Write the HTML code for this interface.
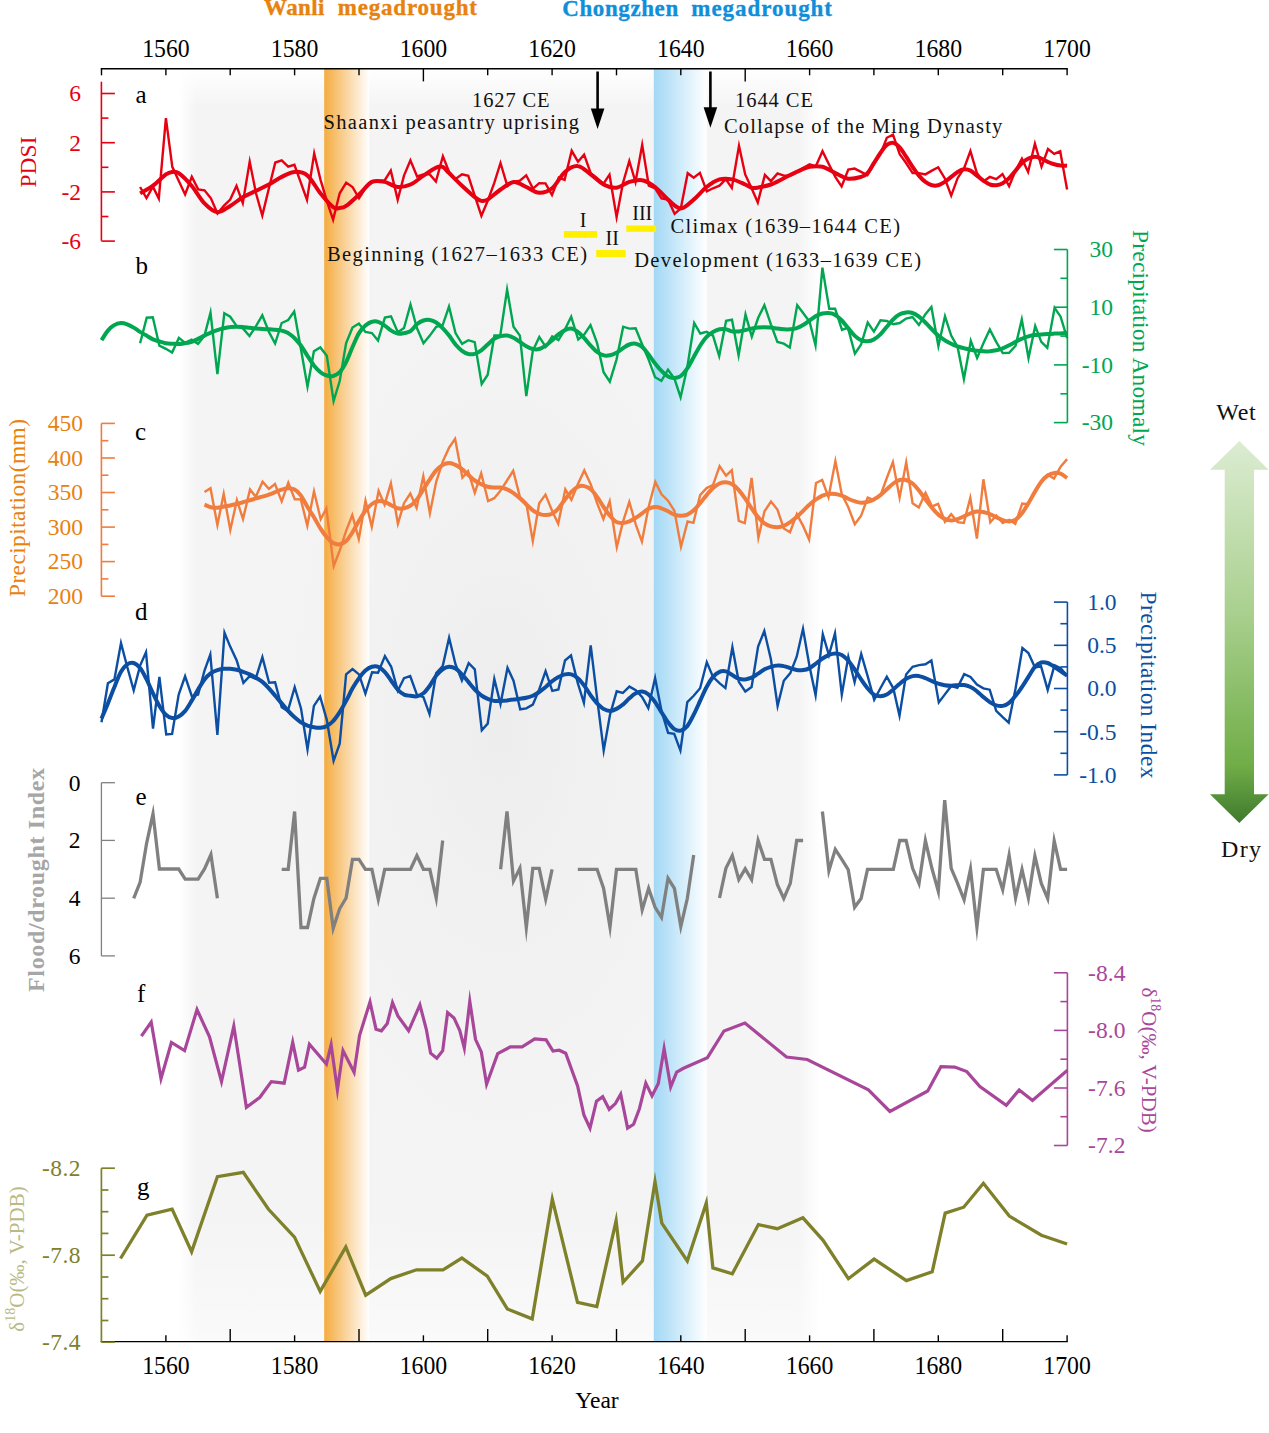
<!DOCTYPE html>
<html><head><meta charset="utf-8"><title>Megadrought</title>
<style>html,body{margin:0;padding:0;background:#fff}body{width:1269px;height:1433px;position:relative;overflow:hidden;font-family:"Liberation Serif",serif}</style></head>
<body>
<svg width="1269" height="1433" viewBox="0 0 1269 1433" style="position:absolute;left:0;top:0;font-family:'Liberation Serif',serif">
<defs>
<linearGradient id="gg" x1="0" x2="1" y1="0" y2="0"><stop offset="0" stop-color="#f4f4f4" stop-opacity="0"/><stop offset="0.027" stop-color="#f4f4f4" stop-opacity="1"/><stop offset="0.967" stop-color="#f4f4f4" stop-opacity="1"/><stop offset="1" stop-color="#f4f4f4" stop-opacity="0"/></linearGradient>
<radialGradient id="gr" cx="0.5" cy="0.5" r="0.5"><stop offset="0" stop-color="#ededed" stop-opacity="1"/><stop offset="1" stop-color="#f4f4f4" stop-opacity="0"/></radialGradient>
<linearGradient id="gv" x1="0" x2="0" y1="0" y2="1"><stop offset="0" stop-color="#fff" stop-opacity="1"/><stop offset="0.03" stop-color="#fff" stop-opacity="0"/><stop offset="0.9" stop-color="#fff" stop-opacity="0"/><stop offset="1" stop-color="#fff" stop-opacity="0.55"/></linearGradient>
<linearGradient id="go" x1="0" x2="1" y1="0" y2="0"><stop offset="0" stop-color="#f5ab40"/><stop offset="1" stop-color="#ffffff"/></linearGradient>
<linearGradient id="gb" x1="0" x2="1" y1="0" y2="0"><stop offset="0" stop-color="#a2d8f5"/><stop offset="1" stop-color="#ffffff"/></linearGradient>
<linearGradient id="ga" x1="0" x2="0" y1="0" y2="1"><stop offset="0" stop-color="#dcecd2"/><stop offset="0.45" stop-color="#a9d08e"/><stop offset="0.85" stop-color="#70ad47"/><stop offset="1" stop-color="#3f7a2e"/></linearGradient>
</defs>
<rect x="179" y="69" width="641" height="1272.5" fill="url(#gg)"/>
<rect x="200" y="150" width="600" height="1150" fill="url(#gr)"/>
<rect x="179" y="69" width="641" height="1272.5" fill="url(#gv)"/>
<rect x="324.2" y="69" width="45" height="1272.5" fill="url(#go)"/>
<rect x="653.8" y="69" width="53" height="1272.5" fill="url(#gb)"/>
<g stroke="#000" stroke-width="1.4" fill="none">
<path d="M100.7 68.8H1067.8"/>
<path d="M101.5 68.8v6.5"/>
<path d="M165.9 68.8v6.5"/>
<path d="M230.2 68.8v6.5"/>
<path d="M294.6 68.8v6.5"/>
<path d="M359 68.8v6.5"/>
<path d="M423.4 68.8v12.6"/>
<path d="M487.7 68.8v6.5"/>
<path d="M552.1 68.8v6.5"/>
<path d="M616.5 68.8v6.5"/>
<path d="M680.8 68.8v6.5"/>
<path d="M745.2 68.8v12.6"/>
<path d="M809.6 68.8v6.5"/>
<path d="M873.9 68.8v6.5"/>
<path d="M938.3 68.8v6.5"/>
<path d="M1002.7 68.8v6.5"/>
<path d="M1067.1 68.8v6.5"/>
<path d="M100.7 1341.6H1067.8"/>
<path d="M165.9 1341.6v-6.3"/>
<path d="M230.2 1341.6v-12.6"/>
<path d="M294.6 1341.6v-6.3"/>
<path d="M359 1341.6v-12.6"/>
<path d="M423.4 1341.6v-6.3"/>
<path d="M487.7 1341.6v-12.6"/>
<path d="M552.1 1341.6v-6.3"/>
<path d="M616.5 1341.6v-12.6"/>
<path d="M680.8 1341.6v-6.3"/>
<path d="M745.2 1341.6v-12.6"/>
<path d="M809.6 1341.6v-6.3"/>
<path d="M873.9 1341.6v-12.6"/>
<path d="M938.3 1341.6v-6.3"/>
<path d="M1002.7 1341.6v-12.6"/>
<path d="M1067.1 1341.6v-6.3"/>
</g>
<g font-size="24.5" text-anchor="middle" fill="#000">
<text x="165.9" y="56.7" textLength="47.5" lengthAdjust="spacingAndGlyphs">1560</text>
<text x="165.9" y="1374.2" textLength="47.5" lengthAdjust="spacingAndGlyphs">1560</text>
<text x="294.6" y="56.7" textLength="47.5" lengthAdjust="spacingAndGlyphs">1580</text>
<text x="294.6" y="1374.2" textLength="47.5" lengthAdjust="spacingAndGlyphs">1580</text>
<text x="423.4" y="56.7" textLength="47.5" lengthAdjust="spacingAndGlyphs">1600</text>
<text x="423.4" y="1374.2" textLength="47.5" lengthAdjust="spacingAndGlyphs">1600</text>
<text x="552.1" y="56.7" textLength="47.5" lengthAdjust="spacingAndGlyphs">1620</text>
<text x="552.1" y="1374.2" textLength="47.5" lengthAdjust="spacingAndGlyphs">1620</text>
<text x="680.8" y="56.7" textLength="47.5" lengthAdjust="spacingAndGlyphs">1640</text>
<text x="680.8" y="1374.2" textLength="47.5" lengthAdjust="spacingAndGlyphs">1640</text>
<text x="809.6" y="56.7" textLength="47.5" lengthAdjust="spacingAndGlyphs">1660</text>
<text x="809.6" y="1374.2" textLength="47.5" lengthAdjust="spacingAndGlyphs">1660</text>
<text x="938.3" y="56.7" textLength="47.5" lengthAdjust="spacingAndGlyphs">1680</text>
<text x="938.3" y="1374.2" textLength="47.5" lengthAdjust="spacingAndGlyphs">1680</text>
<text x="1067.1" y="56.7" textLength="47.5" lengthAdjust="spacingAndGlyphs">1700</text>
<text x="1067.1" y="1374.2" textLength="47.5" lengthAdjust="spacingAndGlyphs">1700</text>
</g>
<text x="597" y="1408.2" font-size="23.5" text-anchor="middle">Year</text>
<g stroke="#e60012" stroke-width="1.6" fill="none"><path d="M101.4 81.7V240.8"/><path d="M101.4 93.5h13.5"/><path d="M101.4 142.7h13.5"/><path d="M101.4 191.9h13.5"/><path d="M101.4 241.1h13.5"/><path d="M101.4 118.1h7"/><path d="M101.4 167.3h7"/><path d="M101.4 216.5h7"/></g>
<g font-size="23.5" fill="#e60012" text-anchor="end">
<text x="81" y="101.3">6</text>
<text x="81" y="150.5">2</text>
<text x="81" y="199.7">-2</text>
<text x="81" y="248.9">-6</text>
</g>
<text transform="translate(36,162) rotate(-90)" font-size="23.5" fill="#e60012" text-anchor="middle">PDSI</text>
<g stroke="#00a650" stroke-width="1.6" fill="none"><path d="M1067.4 249.5V422.6"/><path d="M1067.4 249.5h-13.5"/><path d="M1067.4 307.2h-13.5"/><path d="M1067.4 364.9h-13.5"/><path d="M1067.4 422.6h-13.5"/><path d="M1067.4 278.3h-7"/><path d="M1067.4 336.1h-7"/><path d="M1067.4 393.8h-7"/></g>
<g font-size="23.5" fill="#00a650" text-anchor="end">
<text x="1113" y="257.3">30</text>
<text x="1113" y="315">10</text>
<text x="1113" y="372.7">-10</text>
<text x="1113" y="430.4">-30</text>
</g>
<text transform="translate(1133,338) rotate(90)" font-size="23.5" fill="#00a650" text-anchor="middle" textLength="216">Precipitation Anomaly</text>
<g stroke="#f07c3e" stroke-width="1.6" fill="none"><path d="M101.4 423.4V596.2"/><path d="M101.4 596.2h13.5"/><path d="M101.4 561.6h13.5"/><path d="M101.4 527.1h13.5"/><path d="M101.4 492.5h13.5"/><path d="M101.4 458h13.5"/><path d="M101.4 423.4h13.5"/><path d="M101.4 578.9h7"/><path d="M101.4 544.4h7"/><path d="M101.4 509.8h7"/><path d="M101.4 475.2h7"/><path d="M101.4 440.7h7"/></g>
<g font-size="23.5" fill="#e8820e" text-anchor="end">
<text x="83" y="604">200</text>
<text x="83" y="569.4">250</text>
<text x="83" y="534.9">300</text>
<text x="83" y="500.3">350</text>
<text x="83" y="465.8">400</text>
<text x="83" y="431.2">450</text>
</g>
<text transform="translate(25,508) rotate(-90)" font-size="23.5" fill="#e8820e" text-anchor="middle" textLength="178">Precipitation(mm)</text>
<g stroke="#0b4ea2" stroke-width="1.6" fill="none"><path d="M1067.4 602.1V774.9"/><path d="M1067.4 602.1h-13.5"/><path d="M1067.4 645.3h-13.5"/><path d="M1067.4 688.5h-13.5"/><path d="M1067.4 731.7h-13.5"/><path d="M1067.4 774.9h-13.5"/><path d="M1067.4 623.7h-7"/><path d="M1067.4 666.9h-7"/><path d="M1067.4 710.1h-7"/><path d="M1067.4 753.3h-7"/></g>
<g font-size="23.5" fill="#0b4ea2" text-anchor="end">
<text x="1116.5" y="609.9">1.0</text>
<text x="1116.5" y="653.1">0.5</text>
<text x="1116.5" y="696.3">0.0</text>
<text x="1116.5" y="739.5">-0.5</text>
<text x="1116.5" y="782.6">-1.0</text>
</g>
<text transform="translate(1140.5,685) rotate(90)" font-size="23.5" fill="#0b4ea2" text-anchor="middle" textLength="187">Precipitation Index</text>
<g stroke="#808080" stroke-width="1.3" fill="none"><path d="M101.4 782.7V955.9"/><path d="M101.4 782.7h13.5"/><path d="M101.4 840.4h13.5"/><path d="M101.4 898.2h13.5"/><path d="M101.4 955.9h13.5"/></g>
<g font-size="23.5" fill="#000" text-anchor="end">
<text x="80.5" y="790.5">0</text>
<text x="80.5" y="848.2">2</text>
<text x="80.5" y="906">4</text>
<text x="80.5" y="963.7">6</text>
</g>
<text transform="translate(43.5,880) rotate(-90)" font-size="24" font-weight="bold" fill="#a6a6a6" text-anchor="middle" textLength="224">Flood/drought Index</text>
<g stroke="#a8479a" stroke-width="1.6" fill="none"><path d="M1067.4 972.8V1145.5"/><path d="M1067.4 972.8h-13.5"/><path d="M1067.4 1030.4h-13.5"/><path d="M1067.4 1088h-13.5"/><path d="M1067.4 1145.5h-13.5"/><path d="M1067.4 1001.6h-7"/><path d="M1067.4 1059.2h-7"/><path d="M1067.4 1116.7h-7"/></g>
<g font-size="23.5" fill="#a8479a" text-anchor="end">
<text x="1125.5" y="980.6" textLength="37.5">-8.4</text>
<text x="1125.5" y="1038.2" textLength="37.5">-8.0</text>
<text x="1125.5" y="1095.8" textLength="37.5">-7.6</text>
<text x="1125.5" y="1153.3" textLength="37.5">-7.2</text>
</g>
<text transform="translate(1142,1060) rotate(90)" font-size="21" fill="#a8479a" text-anchor="middle">δ<tspan font-size="14" dy="-9">18</tspan><tspan dy="9">O(‰, V-PDB)</tspan></text>
<g stroke="#7e802a" stroke-width="1.7" fill="none"><path d="M101.4 1168.2V1342.2"/><path d="M101.4 1168.2h13.5"/><path d="M101.4 1255.2h13.5"/><path d="M101.4 1342.2h13.5"/><path d="M101.4 1190h7"/><path d="M101.4 1211.7h7"/><path d="M101.4 1233.4h7"/><path d="M101.4 1277h7"/><path d="M101.4 1298.7h7"/><path d="M101.4 1320.5h7"/></g>
<g font-size="23.5" fill="#7e802a" text-anchor="end">
<text x="80.5" y="1176" textLength="38.4">-8.2</text>
<text x="80.5" y="1263" textLength="38.4">-7.8</text>
<text x="80.5" y="1350" textLength="38.4">-7.4</text>
</g>
<text transform="translate(24,1259) rotate(-90)" font-size="21" fill="#b9ba85" text-anchor="middle">δ<tspan font-size="14" dy="-9">18</tspan><tspan dy="9">O(‰, V-PDB)</tspan></text>
<polyline points="140.1,187 146.5,198 152.9,186.6 158.8,198.6 165.9,118.2 172.3,166.8 178.7,180.7 185.1,194.5 191.8,176.8 198.2,189.4 204.5,190.3 210.9,198.3 217.5,213.4 223.8,205.9 230.2,199.6 236.5,185.9 242.8,203.1 249.7,161.6 256,193.3 262.3,215.5 268.9,188.3 275.3,162.5 281.7,160.3 288.2,166.6 294.4,164.8 301,183.2 307,199.9 314.2,153.4 320.4,179.4 326.8,200.9 333.1,219.8 339.7,193.3 346.2,182.6 352.5,187 359,198.3 365.4,188.3 371.9,181.9 378.3,180.7 384.6,180.5 390.8,170.6 397.7,199.7 404,175.6 410.4,160.4 417.1,176.4 423.4,174.4 429.8,174.4 435.9,181.5 442.9,156.3 449.1,171.9 455.6,179 462,174.4 468.3,175.8 474.8,195.8 481.4,215.8 487.7,200.9 494.2,183.2 500.5,163 507.4,186 513.5,181.9 519.9,180.7 526.2,175.3 533,188.6 539.2,183.2 545.5,183.4 552,195 558.8,177.6 564.6,179.9 571.7,150.8 578,161.7 584.1,154.6 590.7,173.1 597.1,178.2 603.5,183.7 609.5,174.7 616.6,217.2 622.9,183.2 629.3,161 635.5,182 642.2,144.8 648.8,185.6 655.1,188.3 661.5,198.3 668,199.6 674.6,213.8 680.8,208.4 687.7,173.2 693.7,177.7 699.9,172.9 706.8,191.4 713,188.3 719.5,185.7 725.8,179.1 731.8,187.9 739,145.8 745.2,174.4 751.6,188.3 757.8,202.6 764.9,174.9 770.9,181.1 777.5,173.4 783.8,175.6 790.3,175.6 796.7,171.9 803.1,168.1 809.6,164.3 815.8,166.3 822.5,151.2 828.9,164.3 835.3,176.9 841.6,186.5 848.3,169.5 854.6,168.6 861.1,171.9 867.4,175.2 873.9,164.3 880.4,154.2 886.8,137.8 893,134.7 899.7,154.2 906.1,163 912.6,173.1 919,173.1 925.4,174.4 931.9,170.6 938.2,167.3 944.7,178.2 951.2,195.6 957.6,178.2 964.1,168.1 970.4,151.1 976.9,173.1 983.4,181.4 989.8,176.9 996.2,179.2 1002.5,174 1009.1,186.2 1015.6,170.6 1021.9,158.8 1028.1,172 1034.9,143.7 1041.5,166.7 1048,149 1054.2,153.9 1060.2,151.3 1067.1,189.5" fill="none" stroke="#e60012" stroke-width="2.4" stroke-linejoin="miter" stroke-miterlimit="7.4"/>
<path d="M140.1 193.3C142.3 192 148.7 188.9 153 185.7C157.3 182.6 162.7 176.7 165.9 174.4C169.1 172.1 170.2 172.1 172.3 171.9C174.5 171.7 175.5 170.8 178.7 173.1C182 175.4 187.3 180.7 191.6 185.7C195.9 190.8 200.2 199 204.5 203.4C208.8 207.8 213.1 211.8 217.4 212.2C221.7 212.6 225.9 208.4 230.2 205.9C234.5 203.4 238.8 199.6 243.1 197.1C247.4 194.6 251.7 192.9 256 190.8C260.3 188.7 264.6 186.8 268.9 184.5C273.2 182.2 277.4 179 281.7 176.9C286 174.8 290.3 172.1 294.6 171.9C298.9 171.7 303.2 172.1 307.5 175.6C311.8 179.2 316.1 188 320.4 193.3C324.6 198.5 330 204.7 333.2 207.2C336.5 209.6 337.5 208.1 339.7 207.9C341.8 207.7 342.9 208.1 346.1 205.9C349.3 203.7 354.7 198.5 359 194.6C363.3 190.6 367.6 184 371.9 181.9C376.1 179.8 380.4 181.1 384.7 181.9C389 182.8 393.3 186.6 397.6 187C401.9 187.4 406.2 186.4 410.5 184.5C414.8 182.6 419.1 178.5 423.4 175.6C427.6 172.8 433 169 436.2 167.6C439.4 166.1 440.5 165.9 442.7 166.8C444.8 167.7 445.9 170 449.1 173.1C452.3 176.3 457.7 181.7 462 185.7C466.3 189.7 471.6 194.6 474.8 197.1C478.1 199.6 479.1 200.4 481.3 200.9C483.4 201.3 484.5 201.5 487.7 199.6C490.9 197.7 496.3 192.5 500.6 189.5C504.9 186.6 509.2 182.4 513.5 181.9C517.8 181.5 522.1 185.2 526.3 187C530.6 188.8 534.9 192.6 539.2 192.8C543.5 193 547.8 191.7 552.1 188.3C556.4 184.8 560.7 175.6 565 171.9C569.3 168.2 573.5 165.6 577.8 166.1C582.1 166.5 586.4 171.3 590.7 174.4C595 177.4 599.3 182.2 603.6 184.5C607.9 186.7 612.2 188.2 616.5 187.7C620.8 187.3 625 183.2 629.3 181.9C633.6 180.7 637.9 179.3 642.2 180.2C646.5 181 650.8 183.8 655.1 187C659.4 190.2 663.7 196 668 199.6C672.2 203.2 676.5 208.4 680.8 208.4C685.1 208.4 689.4 203.2 693.7 199.6C698 196 702.3 190.4 706.6 187C710.9 183.6 715.2 180.7 719.5 179.4C723.7 178.2 728 178.6 732.3 179.4C736.6 180.3 742 183.1 745.2 184.5C748.4 185.9 749.5 187.2 751.6 187.7C753.8 188.3 754.9 188 758.1 187.5C761.3 186.9 766.7 186 770.9 184.5C775.2 182.9 779.5 180.3 783.8 178.2C788.1 176.1 792.4 173.8 796.7 171.9C801 170 805.3 167.7 809.6 166.8C813.9 166 818.2 165.8 822.4 166.8C826.7 167.9 831 171.1 835.3 173.1C839.6 175.1 843.9 178 848.2 178.7C852.5 179.3 857.8 177.8 861.1 176.9C864.3 176 865.4 175.4 867.5 173.1C869.6 170.8 871.8 166.4 873.9 163C876.1 159.7 878.2 156 880.4 153C882.5 149.9 884.7 146.6 886.8 144.9C889 143.2 891.1 142.4 893.3 142.9C895.4 143.3 897.5 145.1 899.7 147.4C901.8 149.7 904 153.5 906.1 156.7C908.3 160 910.4 163.7 912.6 166.8C914.7 170 916.9 173.1 919 175.6C921.1 178.2 923.3 180.3 925.4 181.9C927.6 183.5 929.7 184.7 931.9 185.2C934 185.8 936.2 185.8 938.3 185.2C940.5 184.7 942.6 183.3 944.7 181.9C946.9 180.6 949 178.6 951.2 176.9C953.3 175.2 955.5 173.1 957.6 171.9C959.8 170.6 961.9 169.5 964.1 169.3C966.2 169.1 968.3 169.5 970.5 170.6C972.6 171.7 974.8 174 976.9 175.6C979.1 177.3 981.2 179.2 983.4 180.7C985.5 182.2 987.7 183.7 989.8 184.5C992 185.2 994.1 185.4 996.2 185.2C998.4 185 1000.5 184.4 1002.7 183.2C1004.8 182 1007 180.3 1009.1 178.2C1011.3 176.1 1013.4 173.1 1015.6 170.6C1017.7 168.1 1019.8 165.1 1022 163C1024.1 161 1026.3 159.5 1028.4 158.5C1030.6 157.4 1032.7 156.7 1034.9 156.7C1037 156.7 1039.2 157.7 1041.3 158.5C1043.4 159.3 1045.6 160.8 1047.7 161.8C1049.9 162.7 1052 163.7 1054.2 164.3C1056.3 164.9 1058.5 165.3 1060.6 165.6C1062.8 165.8 1066 165.6 1067.1 165.6" fill="none" stroke="#e60012" stroke-width="4.0" stroke-linejoin="round" stroke-linecap="butt"/>
<polyline points="140.1,343.2 146.7,317.7 152.8,317.3 159.4,345.7 165.9,348.8 172.1,352.6 178.9,337.9 185.2,342.9 191.6,339.7 198,343.9 204.5,335.6 210.5,312.5 217.4,374 224.3,313.3 230.2,316.7 236.7,326.1 243.1,328.6 249.5,336 256,326.1 262.3,315.3 268.9,331.9 275.1,343.5 281.7,323 288.2,320 294.2,311.5 301,349.5 307.5,386.7 313.9,351.3 320.3,347.4 326.8,355.8 333.6,401 339.7,381 346.1,343.2 352.5,327.6 358.9,323.5 365.4,331.9 371.9,333.1 378,340.4 384.9,317.6 391,316.3 397.8,332.3 404,328.1 410.5,304.5 416.9,328.1 423.5,343.2 429.8,335.6 436.2,326.8 442.7,325.1 449,306.6 455.5,333.1 462.1,343.9 468.4,340.2 474.7,342.1 481.7,384 487.7,374.7 494.4,335.5 500.3,335.3 507.1,289.5 513.5,326.8 519.9,335.6 526.3,396.2 532.8,350.8 539.3,336.9 545.7,346.8 552.2,336.3 558.4,340.1 565,329.3 571.2,316.8 578.2,339.5 584.3,334.4 590.5,325.2 597.1,343.2 603.6,372.2 609.8,381.6 616.5,359.6 623.2,326.7 629.3,328.6 635.6,328.3 642.2,344.5 648.6,359.6 655.1,377.2 661.4,380.9 668,369.7 674.4,378.5 680.6,397.2 687.3,367.2 694.2,323 700.3,333.5 706.6,331.9 713,335.6 719.2,356.1 726.1,320.7 732,319.7 738.6,355.3 745.5,314.5 751.8,336.7 758.1,318 764.4,305.2 770.9,324.3 777.4,341.9 783.8,343.7 789.8,347.6 797.2,305.1 803.1,313 809.6,321.8 815.5,345.4 822.4,267.6 829.2,308.8 835.1,308.7 842,329.9 847.9,327.6 854.9,353.7 861.1,344.5 867.7,322.6 873.9,331.6 880.5,320.3 886.8,321 893.3,324.3 899.7,323 906.1,318.5 912.5,317 918.9,325 925.4,314.2 931.4,307 938.4,346.1 945,316.3 951.2,335.6 957.6,347 963.9,379 970.8,340.8 977.1,358 983.4,343.2 989.8,329.4 996.2,341.9 1002.8,353.1 1009.1,352.8 1015.6,345.7 1021.8,319.4 1028.5,358 1035.2,325.9 1041.3,341.9 1047.3,347.9 1054.6,307.8 1060.6,316.7 1067.1,338.2" fill="none" stroke="#00a650" stroke-width="2.4" stroke-linejoin="miter" stroke-miterlimit="7.4"/>
<path d="M101.5 340.2C102.6 338.6 105.8 333.1 107.9 330.6C110.1 328.1 112.2 326.3 114.4 325.1C116.5 323.8 118.7 323.2 120.8 323C123 322.9 125.1 323.5 127.2 324.3C129.4 325.1 131.5 326.3 133.7 327.6C135.8 328.8 138 330.5 140.1 331.9C142.3 333.2 144.4 334.4 146.6 335.6C148.7 336.9 150.9 338.5 153 339.4C155.1 340.4 157.3 340.8 159.4 341.4C161.6 342.1 163.7 342.8 165.9 343.2C168 343.6 170.2 343.6 172.3 343.7C174.5 343.8 176.6 344 178.7 344C180.9 343.9 183 343.5 185.2 343.2C187.3 342.9 189.5 342.7 191.6 341.9C193.8 341.2 195.9 340 198.1 338.9C200.2 337.9 202.3 336.7 204.5 335.6C206.6 334.6 208.8 333.5 210.9 332.6C213.1 331.7 215.2 330.8 217.4 330.1C219.5 329.4 221.7 328.8 223.8 328.3C225.9 327.8 228.1 327.3 230.2 327.1C232.4 326.8 234.5 326.8 236.7 326.8C238.8 326.8 241 326.9 243.1 327.1C245.3 327.2 247.4 327.6 249.6 327.8C251.7 328.1 253.8 328.4 256 328.6C258.1 328.8 260.3 329 262.4 329.1C264.6 329.2 266.7 329.2 268.9 329.3C271 329.5 273.2 329.6 275.3 329.8C277.4 330.1 279.6 330.1 281.7 330.6C283.9 331.1 286 331.9 288.2 333.1C290.3 334.4 292.5 336.1 294.6 338.2C296.8 340.3 298.9 342.8 301 345.7C303.2 348.7 305.3 352.5 307.5 355.8C309.6 359.1 311.8 362.7 313.9 365.4C316.1 368.1 318.2 370.5 320.4 372.2C322.5 373.9 324.6 374.9 326.8 375.5C328.9 376.1 331.1 376.5 333.2 376C335.4 375.4 337.5 374.5 339.7 372.2C341.8 369.9 344 366.3 346.1 362.1C348.3 357.9 350.4 351.8 352.5 347C354.7 342.2 356.8 336.7 359 333.1C361.1 329.5 363.3 327.4 365.4 325.6C367.6 323.7 369.7 322.4 371.9 321.8C374 321.1 376.1 321.1 378.3 321.8C380.4 322.4 382.6 324.1 384.7 325.6C386.9 327 389 329.3 391.2 330.6C393.3 331.9 395.5 333.2 397.6 333.6C399.7 334 401.9 333.5 404 333.1C406.2 332.7 408.3 332.6 410.5 331.1C412.6 329.6 414.8 326.1 416.9 324.3C419.1 322.5 421.2 321.2 423.4 320.5C425.5 319.8 427.6 319.7 429.8 320C431.9 320.3 434.1 321.2 436.2 322.5C438.4 323.9 440.5 325.9 442.7 328.1C444.8 330.3 447 332.9 449.1 335.6C451.2 338.4 453.4 341.9 455.5 344.5C457.7 347 459.8 349.2 462 350.8C464.1 352.4 466.3 353.5 468.4 354C470.6 354.6 472.7 354.4 474.8 353.8C477 353.2 479.1 351.8 481.3 350.3C483.4 348.7 485.6 346.4 487.7 344.5C489.9 342.5 492 340.1 494.2 338.7C496.3 337.3 498.4 336.7 500.6 336.1C502.7 335.6 504.9 335.4 507 335.6C509.2 335.9 511.3 336.6 513.5 337.7C515.6 338.7 517.8 340.5 519.9 341.9C522.1 343.4 524.2 345.1 526.3 346.2C528.5 347.4 530.6 348.5 532.8 349C534.9 349.5 537.1 349.6 539.2 349C541.4 348.5 543.5 347.2 545.7 345.7C547.8 344.3 549.9 342.1 552.1 340.2C554.2 338.3 556.4 336.1 558.5 334.4C560.7 332.7 562.8 331.1 565 330.1C567.1 329.1 569.3 328.3 571.4 328.6C573.5 328.9 575.7 330.3 577.8 331.9C580 333.5 582.1 335.9 584.3 338.2C586.4 340.5 588.6 343.4 590.7 345.7C592.9 348 595 350.4 597.1 352C599.3 353.6 601.4 354.8 603.6 355.3C605.7 355.9 607.9 355.7 610 355.3C612.2 354.9 614.3 354 616.5 352.8C618.6 351.6 620.8 349.6 622.9 348.3C625 346.9 627.2 345.2 629.3 344.5C631.5 343.7 633.6 343.3 635.8 343.7C637.9 344.1 640.1 345.2 642.2 347C644.4 348.8 646.5 351.8 648.6 354.6C650.8 357.3 652.9 360.6 655.1 363.4C657.2 366.1 659.4 368.8 661.5 370.9C663.7 373.1 665.8 375.3 668 376.5C670.1 377.7 672.2 378.1 674.4 378C676.5 377.9 678.7 377.6 680.8 376C683 374.4 685.1 371.6 687.3 368.4C689.4 365.3 691.6 360.9 693.7 357.1C695.8 353.3 698 349.1 700.1 345.7C702.3 342.4 704.4 339.2 706.6 336.9C708.7 334.6 710.9 333.1 713 331.9C715.2 330.6 717.3 329.8 719.5 329.3C721.6 328.9 723.7 329 725.9 329.3C728 329.7 730.2 331 732.3 331.4C734.5 331.7 736.6 331.6 738.8 331.4C740.9 331.1 743.1 330.6 745.2 330.1C747.3 329.6 749.5 329 751.6 328.6C753.8 328.2 755.9 327.8 758.1 327.6C760.2 327.4 762.4 327.3 764.5 327.3C766.7 327.3 768.8 327.4 770.9 327.6C773.1 327.8 775.2 328.3 777.4 328.6C779.5 328.9 781.7 329.2 783.8 329.3C786 329.5 788.1 329.5 790.3 329.3C792.4 329.1 794.6 328.8 796.7 328.1C798.8 327.4 801 326.3 803.1 325.1C805.3 323.8 807.4 322 809.6 320.5C811.7 319 813.9 317.2 816 316C818.2 314.8 820.3 314 822.4 313.5C824.6 313 826.7 312.7 828.9 313C831 313.2 833.2 313.7 835.3 315C837.5 316.2 839.6 318.3 841.8 320.5C843.9 322.7 846 325.6 848.2 328.1C850.3 330.6 852.5 333.6 854.6 335.6C856.8 337.7 858.9 339.3 861.1 340.2C863.2 341.1 865.4 341.3 867.5 341.2C869.6 341.1 871.8 340.6 873.9 339.4C876.1 338.3 878.2 336.5 880.4 334.4C882.5 332.3 884.7 329.3 886.8 326.8C889 324.3 891.1 321.4 893.3 319.3C895.4 317.2 897.5 315.3 899.7 314.2C901.8 313.1 904 312.7 906.1 312.4C908.3 312.2 910.4 312.2 912.6 313C914.7 313.7 916.9 315.1 919 316.7C921.1 318.3 923.3 320.4 925.4 322.5C927.6 324.6 929.7 327.2 931.9 329.3C934 331.5 936.2 333.8 938.3 335.6C940.5 337.4 942.6 338.8 944.7 340.2C946.9 341.5 949 342.7 951.2 343.7C953.3 344.8 955.5 345.7 957.6 346.5C959.8 347.2 961.9 347.7 964.1 348.3C966.2 348.8 968.3 349.3 970.5 349.8C972.6 350.2 974.8 350.5 976.9 350.8C979.1 351 981.2 351.2 983.4 351.3C985.5 351.4 987.7 351.4 989.8 351.3C992 351.1 994.1 350.8 996.2 350.3C998.4 349.8 1000.5 349.1 1002.7 348.3C1004.8 347.4 1007 346.3 1009.1 345.2C1011.3 344.2 1013.4 343 1015.6 341.9C1017.7 340.9 1019.8 339.6 1022 338.7C1024.1 337.7 1026.3 337 1028.4 336.4C1030.6 335.8 1032.7 335.4 1034.9 335.1C1037 334.8 1039.2 334.8 1041.3 334.6C1043.4 334.5 1045.6 334.3 1047.7 334.1C1049.9 334 1052 333.8 1054.2 333.6C1056.3 333.5 1058.5 333.5 1060.6 333.4C1062.8 333.3 1066 333.2 1067.1 333.1" fill="none" stroke="#00a650" stroke-width="4.0" stroke-linejoin="round" stroke-linecap="butt"/>
<polyline points="204.5,492.1 210.5,488.2 217.4,525 223.7,493.8 230.3,529.9 236.9,500.1 243,519.1 250,489.4 255.8,496.7 262.6,481.7 268.9,488.9 275,484 281.7,501.4 288.3,482.7 294.8,499.4 300.8,499.3 307.3,525.6 314,491.3 320.7,519.2 326.3,508.4 333.7,566 339.7,550.6 346.1,530.9 352.3,515.1 358.8,539 365.5,500.7 371.8,526.7 378.6,490.9 384.6,504.7 390.9,483.2 397.9,523.8 404,503.2 410.3,493.6 416.6,507.9 423.3,476.3 429.9,513.2 436.2,481.8 442.7,461.6 449.1,447.7 455.1,438.8 462.4,477.7 468.1,471.2 474.8,492.8 481.2,473.3 488.1,501.1 494.2,498.2 500.6,490.6 507,480.5 513.2,470.8 519.9,496.9 526.3,503.2 532.8,541.2 539.2,503.2 545.5,494.6 552.1,510.8 558.2,523.8 565.3,489.3 571.4,499.8 577.8,484.3 584.3,470.4 590.7,484.3 597.1,503.2 603.4,519 609.7,501.3 616.8,547.1 622.9,522.1 629.3,501.8 635.8,524.6 641.9,541.6 648.6,507 655.3,481.9 661.5,494.4 668,500.7 674.4,510.8 681,546.8 687.6,521.4 693.4,522.8 700.1,495.1 706.6,488.1 713,485.1 719.6,466.1 726,475.7 731.8,470.3 738.8,520.9 744.8,523.2 751.6,478 758.4,537.6 764.5,511.3 771,501.6 777.4,509.5 783.8,528.4 790,532.2 796.8,514.2 803.1,525.9 809.1,539.5 816,483 822.2,480 828.5,497.3 835.4,461.1 841.8,494.4 848.2,507 854.8,524.3 861.1,515.8 867.7,497.5 873.9,500 880.4,495.6 886.8,478 892.9,462.1 899.6,497.6 906.2,462.3 912.6,503.2 918.8,507.4 925.5,492.8 932.1,506.4 938.1,503.9 945,521.8 951.2,514.2 957.6,522.1 963.8,523 970.3,497.8 976.9,538.5 983.4,479.3 990.3,522.4 996.3,515.5 1002.8,523 1009.1,519.8 1015.3,523.8 1022.2,503.6 1028.3,504.2 1034.9,491.9 1041.3,481.8 1047.8,474.7 1054,478.6 1060.6,466.6 1067.1,459.1" fill="none" stroke="#f07c3e" stroke-width="2.4" stroke-linejoin="miter" stroke-miterlimit="7.4"/>
<path d="M204.5 504.7C205.6 505.1 208.8 506.7 210.9 507.2C213.1 507.7 215.2 507.9 217.4 507.7C219.5 507.6 221.7 506.9 223.8 506.5C225.9 506.1 228.1 505.9 230.2 505.5C232.4 505.1 234.5 504.5 236.7 504C238.8 503.4 241 502.8 243.1 502.2C245.3 501.6 247.4 501.1 249.6 500.4C251.7 499.8 253.8 499 256 498.4C258.1 497.8 260.3 497.3 262.4 496.7C264.6 496 266.7 495.4 268.9 494.6C271 493.9 273.2 493 275.3 492.1C277.4 491.3 279.6 490.2 281.7 489.6C283.9 489 286 488.3 288.2 488.3C290.3 488.3 292.5 488.4 294.6 489.6C296.8 490.8 298.9 492.7 301 495.6C303.2 498.5 305.3 503.4 307.5 507C309.6 510.6 311.8 513.5 313.9 517.1C316.1 520.6 318.2 525.1 320.4 528.4C322.5 531.8 324.6 534.8 326.8 537.2C328.9 539.7 331.1 541.9 333.2 543C335.4 544.2 337.5 544.6 339.7 544.3C341.8 544 344 543 346.1 541C348.3 539 350.4 535.6 352.5 532.2C354.7 528.8 356.8 524.4 359 520.9C361.1 517.3 363.3 513.6 365.4 510.8C367.6 508 369.7 505.6 371.9 504C374 502.4 376.1 501.5 378.3 501.2C380.4 500.9 382.6 501.3 384.7 501.9C386.9 502.6 389 504.2 391.2 505.2C393.3 506.3 395.5 507.7 397.6 508.3C399.7 508.8 401.9 508.7 404 508.3C406.2 507.8 408.3 507.2 410.5 505.7C412.6 504.3 414.8 502.2 416.9 499.4C419.1 496.7 421.2 492.7 423.4 489.3C425.5 486 427.6 482.4 429.8 479.3C431.9 476.1 434.1 472.8 436.2 470.4C438.4 468 440.5 466.1 442.7 464.9C444.8 463.6 447 462.9 449.1 462.9C451.2 462.9 453.4 463.8 455.5 464.9C457.7 465.9 459.8 467.5 462 469.2C464.1 470.8 466.3 473.1 468.4 475C470.6 476.9 472.7 479 474.8 480.5C477 482.1 479.1 483.2 481.3 484.3C483.4 485.3 485.6 486.3 487.7 486.8C489.9 487.4 492 487.4 494.2 487.6C496.3 487.7 498.4 487.3 500.6 487.6C502.7 487.9 504.9 488.4 507 489.3C509.2 490.3 511.3 491.7 513.5 493.1C515.6 494.6 517.8 496.3 519.9 498.2C522.1 500.1 524.2 502.5 526.3 504.5C528.5 506.5 530.6 508.7 532.8 510.3C534.9 511.8 537.1 513 539.2 513.8C541.4 514.6 543.5 515.1 545.7 515.1C547.8 515.1 549.9 514.9 552.1 513.8C554.2 512.7 556.4 510.6 558.5 508.3C560.7 505.9 562.8 502.2 565 499.4C567.1 496.7 569.3 494 571.4 491.9C573.5 489.8 575.7 487.8 577.8 486.8C580 485.9 582.1 485.6 584.3 486.1C586.4 486.5 588.6 487.5 590.7 489.3C592.9 491.1 595 494 597.1 496.9C599.3 499.8 601.4 503.8 603.6 507C605.7 510.1 607.9 513.3 610 515.8C612.2 518.3 614.3 520.9 616.5 522.1C618.6 523.3 620.8 523 622.9 522.9C625 522.7 627.2 522.2 629.3 521.4C631.5 520.5 633.6 519.2 635.8 517.8C637.9 516.5 640.1 514.8 642.2 513.3C644.4 511.8 646.5 509.8 648.6 508.8C650.8 507.7 652.9 507.1 655.1 507C657.2 506.9 659.4 507.5 661.5 508.3C663.7 509 665.8 510.2 668 511.3C670.1 512.3 672.2 513.8 674.4 514.6C676.5 515.3 678.7 515.8 680.8 515.8C683 515.8 685.1 515.5 687.3 514.6C689.4 513.6 691.6 512.2 693.7 510.3C695.8 508.4 698 505.7 700.1 503.2C702.3 500.7 704.4 497.7 706.6 495.1C708.7 492.6 710.9 490 713 488.1C715.2 486.1 717.3 484.5 719.5 483.5C721.6 482.6 723.7 482.2 725.9 482.3C728 482.4 730.2 483 732.3 484.3C734.5 485.6 736.6 487.7 738.8 490.1C740.9 492.5 743.1 495.6 745.2 498.7C747.3 501.7 749.5 505.2 751.6 508.3C753.8 511.3 755.9 514.6 758.1 517.1C760.2 519.6 762.4 521.8 764.5 523.4C766.7 524.9 768.8 525.8 770.9 526.4C773.1 527 775.2 527.2 777.4 527.2C779.5 527.1 781.7 526.7 783.8 525.9C786 525.1 788.1 523.6 790.3 522.1C792.4 520.6 794.6 519 796.7 517.1C798.8 515.2 801 512.9 803.1 510.8C805.3 508.7 807.4 506.4 809.6 504.5C811.7 502.6 813.9 500.9 816 499.4C818.2 498 820.3 496.6 822.4 495.6C824.6 494.7 826.7 494.2 828.9 493.9C831 493.6 833.2 493.6 835.3 493.9C837.5 494.2 839.6 494.8 841.8 495.6C843.9 496.4 846 497.7 848.2 498.7C850.3 499.6 852.5 500.5 854.6 501.2C856.8 501.9 858.9 502.6 861.1 502.7C863.2 502.8 865.4 502.5 867.5 501.9C869.6 501.4 871.8 500.6 873.9 499.4C876.1 498.3 878.2 496.8 880.4 495.1C882.5 493.5 884.7 491.3 886.8 489.3C889 487.4 891.1 485.1 893.3 483.5C895.4 482 897.5 480.6 899.7 480C901.8 479.4 904 479.4 906.1 480C908.3 480.6 910.4 481.8 912.6 483.5C914.7 485.3 916.9 488 919 490.6C921.1 493.2 923.3 496.6 925.4 499.4C927.6 502.3 929.7 505.2 931.9 507.7C934 510.3 936.2 512.7 938.3 514.6C940.5 516.4 942.6 517.9 944.7 518.8C946.9 519.8 949 520.3 951.2 520.4C953.3 520.4 955.5 519.8 957.6 519.1C959.8 518.4 961.9 517.3 964.1 516.3C966.2 515.4 968.3 514.1 970.5 513.3C972.6 512.5 974.8 511.7 976.9 511.5C979.1 511.3 981.2 511.6 983.4 512C985.5 512.5 987.7 513.2 989.8 514C992 514.9 994.1 516.1 996.2 517.1C998.4 518.1 1000.5 519.4 1002.7 520.1C1004.8 520.8 1007 521.4 1009.1 521.4C1011.3 521.3 1013.4 520.9 1015.6 519.6C1017.7 518.3 1019.8 516 1022 513.3C1024.1 510.6 1026.3 506.8 1028.4 503.2C1030.6 499.6 1032.7 495.4 1034.9 491.9C1037 488.3 1039.2 484.5 1041.3 481.8C1043.4 479 1045.6 476.9 1047.7 475.5C1049.9 474 1052 473.2 1054.2 473C1056.3 472.7 1058.5 472.9 1060.6 473.7C1062.8 474.5 1066 477.3 1067.1 478" fill="none" stroke="#f07c3e" stroke-width="4.0" stroke-linejoin="round" stroke-linecap="butt"/>
<polyline points="101.5,722.3 107.9,683.2 114.4,679.4 121,643.1 127.2,666.8 133.7,690.3 140.1,665.6 146,652.3 153,728.6 159.4,676.9 166.2,734.5 172.1,733.9 178.7,694.6 185.1,676.3 191.9,696.5 198.1,694.6 204.5,670.6 210.3,654.5 217.4,734.9 224.5,632.7 230.2,646.6 236.7,660.5 243.4,682.9 249.6,676.1 255.7,678.7 262.4,657.2 269.1,682.8 275.1,682.3 281.7,707.2 287.8,711.2 294.7,687.2 301,708.4 307.5,749.3 313.9,705.9 320.1,696.5 326.8,719.8 333.6,760.8 339.7,743.7 346.1,674.4 352.5,669 359,674.4 365.4,693.7 372.1,672.2 378.1,672.8 384.9,656.1 391.2,666.8 397.8,690.7 404,678.2 410.2,676.1 416.9,694.6 423.4,697.1 429.5,714.1 436.2,673.1 442.7,666.1 449.1,637.7 455.5,664.3 461.9,680.5 468.7,663.1 474.8,669.3 481.8,730.3 487.7,723.6 494.3,679 500.5,704.1 507.5,667.8 513.5,680.7 520.2,709.3 526.3,708.4 532.8,704.6 539.2,689.5 545.6,671.2 552.3,690.8 558.4,689.4 565,660.5 571,655.4 577.8,683.2 583.9,702.8 590.7,645.4 597.1,698.3 603.7,750.5 610,714.7 616.7,691.3 622.8,693 629.4,686.6 635.8,690.3 642.2,697.1 648.3,708.1 655.1,678 661.5,710.9 668.1,732.9 674.2,733.8 680.4,750.4 687.3,702.1 693.7,695.8 700.1,688.3 706.8,662.3 713,676.9 719.5,683.2 725.4,688.1 732.4,647.2 738.8,681.9 745.3,691.5 751.6,687 758.1,646.6 764.3,631.1 770.9,659.3 777.6,705.9 783.8,680.7 790.3,673.1 796.7,656.7 803,628.8 809.6,666.8 815.6,695.3 822.8,634.2 828.9,655.2 835,633.2 841.8,694.6 848.3,656.9 854.6,682.2 861.2,654 867.5,675.6 874.2,699.7 880.4,688.3 886.8,676.7 893.3,688.3 899.5,715.6 906.1,674.4 912.6,666.8 919,665.1 925.4,664.3 931.4,660.4 938.8,702.4 944.7,694.6 951.3,686 957.4,687.8 964.2,674.1 970.5,676.9 976.9,684.5 983.4,688.3 989.7,689.7 996.2,710.9 1002.7,717.2 1008.7,722.7 1015.6,688.3 1022.4,648 1028.4,653 1035,667.6 1041,666.1 1047.7,689.9 1054.5,665.1 1060.6,668.1 1067.1,675.6" fill="none" stroke="#0b4ea2" stroke-width="2.4" stroke-linejoin="miter" stroke-miterlimit="7.4"/>
<path d="M101.5 718.5C102.6 716 105.8 708.6 107.9 703.4C110.1 698.1 112.2 692.2 114.4 687C116.5 681.7 118.7 675.6 120.8 671.9C123 668.1 125.1 665.8 127.2 664.3C129.4 662.8 131.5 662.4 133.7 663C135.8 663.7 138 665.3 140.1 668.1C142.3 670.8 144.4 675.2 146.6 679.4C148.7 683.6 150.9 688.9 153 693.3C155.1 697.7 157.3 702.3 159.4 705.9C161.6 709.5 163.7 712.7 165.9 714.7C168 716.7 170.2 717.7 172.3 718C174.5 718.3 176.6 717.7 178.7 716.5C180.9 715.3 183 713.5 185.2 710.9C187.3 708.3 189.5 704.4 191.6 700.9C193.8 697.3 195.9 693.1 198.1 689.5C200.2 685.9 202.3 682.2 204.5 679.4C206.6 676.7 208.8 674.7 210.9 673.1C213.1 671.6 215.2 670.8 217.4 670.1C219.5 669.4 221.7 669 223.8 668.8C225.9 668.6 228.1 668.7 230.2 668.8C232.4 669 234.5 669.3 236.7 669.8C238.8 670.3 241 671.1 243.1 671.9C245.3 672.6 247.4 673.4 249.6 674.4C251.7 675.3 253.8 676.4 256 677.7C258.1 678.9 260.3 680.2 262.4 681.9C264.6 683.7 266.7 685.9 268.9 688.3C271 690.6 273.2 693.3 275.3 695.8C277.4 698.3 279.6 700.9 281.7 703.4C283.9 705.9 286 708.6 288.2 710.9C290.3 713.3 292.5 715.4 294.6 717.2C296.8 719.1 298.9 720.9 301 722.3C303.2 723.7 305.3 724.7 307.5 725.6C309.6 726.4 311.8 727 313.9 727.3C316.1 727.7 318.2 728 320.4 727.8C322.5 727.6 324.6 727.2 326.8 726.1C328.9 724.9 331.1 723.3 333.2 721C335.4 718.7 337.5 715.6 339.7 712.2C341.8 708.8 344 704.8 346.1 700.9C348.3 696.9 350.4 692 352.5 688.3C354.7 684.5 356.8 681.1 359 678.2C361.1 675.2 363.3 672.5 365.4 670.6C367.6 668.7 369.7 667.4 371.9 666.8C374 666.2 376.1 666 378.3 666.8C380.4 667.7 382.6 669.5 384.7 671.9C386.9 674.2 389 677.7 391.2 680.7C393.3 683.6 395.5 687.2 397.6 689.5C399.7 691.8 401.9 693.5 404 694.6C406.2 695.6 408.3 695.5 410.5 695.8C412.6 696.1 414.8 696.7 416.9 696.3C419.1 695.9 421.2 695.1 423.4 693.3C425.5 691.5 427.6 688.7 429.8 685.7C431.9 682.8 434.1 678.4 436.2 675.6C438.4 672.9 440.5 670.8 442.7 669.3C444.8 667.9 447 666.9 449.1 666.8C451.2 666.7 453.4 667.3 455.5 668.6C457.7 669.8 459.8 672.2 462 674.4C464.1 676.6 466.3 679.4 468.4 681.9C470.6 684.5 472.7 687.3 474.8 689.5C477 691.7 479.1 693.8 481.3 695.3C483.4 696.9 485.6 697.9 487.7 698.8C489.9 699.8 492 700.5 494.2 700.9C496.3 701.2 498.4 700.9 500.6 700.9C502.7 700.8 504.9 700.6 507 700.4C509.2 700.1 511.3 699.8 513.5 699.6C515.6 699.3 517.8 699.1 519.9 698.8C522.1 698.5 524.2 698.3 526.3 697.8C528.5 697.3 530.6 696.8 532.8 695.8C534.9 694.8 537.1 693.5 539.2 692C541.4 690.6 543.5 688.8 545.7 687C547.8 685.2 549.9 682.9 552.1 681.2C554.2 679.5 556.4 678 558.5 676.9C560.7 675.8 562.8 674.8 565 674.4C567.1 674 569.3 673.8 571.4 674.4C573.5 675 575.7 676.3 577.8 678.2C580 680.1 582.1 682.9 584.3 685.7C586.4 688.6 588.6 692.4 590.7 695.3C592.9 698.3 595 701.1 597.1 703.4C599.3 705.6 601.4 707.7 603.6 708.9C605.7 710.2 607.9 710.9 610 710.9C612.2 710.9 614.3 710 616.5 708.9C618.6 707.9 620.8 706.4 622.9 704.6C625 702.9 627.2 700.2 629.3 698.3C631.5 696.4 633.6 694.4 635.8 693.3C637.9 692.2 640.1 691.3 642.2 691.5C644.4 691.7 646.5 692.8 648.6 694.6C650.8 696.3 652.9 699.2 655.1 702.1C657.2 705.1 659.4 708.8 661.5 712.2C663.7 715.6 665.8 719.5 668 722.3C670.1 725.1 672.2 727.7 674.4 729.1C676.5 730.5 678.7 731.1 680.8 730.6C683 730.1 685.1 728.7 687.3 726.1C689.4 723.4 691.6 718.9 693.7 714.7C695.8 710.5 698 705.5 700.1 700.9C702.3 696.2 704.4 691 706.6 687C708.7 683 710.9 679.4 713 676.9C715.2 674.4 717.3 672.8 719.5 671.9C721.6 670.9 723.7 670.8 725.9 671.4C728 671.9 730.2 673.9 732.3 675.1C734.5 676.4 736.6 678 738.8 678.7C740.9 679.4 743.1 679.6 745.2 679.4C747.3 679.3 749.5 678.6 751.6 677.7C753.8 676.7 755.9 675 758.1 673.6C760.2 672.2 762.4 670.5 764.5 669.3C766.7 668.2 768.8 667.4 770.9 666.8C773.1 666.2 775.2 665.7 777.4 665.6C779.5 665.4 781.7 665.6 783.8 666.1C786 666.5 788.1 667.4 790.3 668.1C792.4 668.8 794.6 669.8 796.7 670.1C798.8 670.4 801 670.4 803.1 670.1C805.3 669.8 807.4 669.2 809.6 668.1C811.7 667 813.9 665.1 816 663.5C818.2 661.9 820.3 659.9 822.4 658.5C824.6 657.1 826.7 655.8 828.9 655C831 654.1 833.2 653.5 835.3 653.5C837.5 653.5 839.6 653.8 841.8 655C843.9 656.1 846 658.1 848.2 660.5C850.3 662.9 852.5 666.2 854.6 669.3C856.8 672.5 858.9 676.3 861.1 679.4C863.2 682.6 865.4 685.7 867.5 688.3C869.6 690.8 871.8 693.2 873.9 694.6C876.1 695.9 878.2 696.3 880.4 696.3C882.5 696.3 884.7 695.7 886.8 694.6C889 693.4 891.1 691.3 893.3 689.5C895.4 687.7 897.5 685.5 899.7 683.7C901.8 681.9 904 679.9 906.1 678.7C908.3 677.4 910.4 676.6 912.6 676.1C914.7 675.7 916.9 675.8 919 676.1C921.1 676.5 923.3 677.3 925.4 678.2C927.6 679 929.7 680.3 931.9 681.2C934 682.1 936.2 683 938.3 683.7C940.5 684.4 942.6 684.9 944.7 685.2C946.9 685.6 949 685.7 951.2 685.7C953.3 685.7 955.5 685.4 957.6 685.2C959.8 685.1 961.9 684.7 964.1 685C966.2 685.3 968.3 685.9 970.5 687C972.6 688 974.8 689.6 976.9 691.3C979.1 693 981.2 695.3 983.4 697.1C985.5 698.9 987.7 700.7 989.8 702.1C992 703.5 994.1 704.8 996.2 705.4C998.4 706 1000.5 706.3 1002.7 705.9C1004.8 705.5 1007 704.6 1009.1 702.9C1011.3 701.2 1013.4 698.5 1015.6 695.8C1017.7 693.2 1019.8 690.1 1022 687C1024.1 683.8 1026.3 680.3 1028.4 676.9C1030.6 673.5 1032.7 669.2 1034.9 666.8C1037 664.4 1039.2 663.2 1041.3 662.5C1043.4 661.9 1045.6 662.3 1047.7 663C1049.9 663.8 1052 665.5 1054.2 666.8C1056.3 668.2 1058.5 669.6 1060.6 671.1C1062.8 672.6 1066 674.9 1067.1 675.6" fill="none" stroke="#0b4ea2" stroke-width="4.0" stroke-linejoin="round" stroke-linecap="butt"/>
<polyline points="133.7,898.3 140.1,882.4 146.6,843.3 153,813.8 159.4,869 165.9,869 172.3,869 178.7,869 185.2,879.1 191.6,879.1 198.1,879.1 204.5,869 210.9,854.6 217.4,898.3" fill="none" stroke="#808080" stroke-width="3.3" stroke-linejoin="miter" stroke-miterlimit="9.6"/>
<polyline points="281.7,869.3 288.2,869.3 294.6,811.5 301,927.5 307.5,927.5 313.9,898.5 320.4,878.3 326.8,878.3 333.2,928.3 339.7,908.6 346.1,898 352.5,859.4 359,859.4 365.4,869.3 371.9,869.3 378.3,899.3 384.7,869.3 391.2,869.3 397.6,869.3 404,869.3 410.5,869.3 416.9,855.6 423.4,869.3 429.8,869.3 436.2,898 442.7,840.5" fill="none" stroke="#808080" stroke-width="3.3" stroke-linejoin="miter" stroke-miterlimit="9.6"/>
<polyline points="500.6,869.3 507,811.5 513.5,880.9 519.9,868.3 526.3,927.5 532.8,868.3 539.2,868.3 545.7,899 552.1,869.3" fill="none" stroke="#808080" stroke-width="3.3" stroke-linejoin="miter" stroke-miterlimit="9.6"/>
<polyline points="577.8,869.3 584.3,869.3 590.7,869.3 597.1,869.3 603.6,888.4 610,927 616.5,869.3 622.9,869.3 629.3,869.3 635.8,869.3 642.2,909.9 648.6,888.4 655.1,907.3 661.5,917.4 668,878.3 674.4,888.4 680.8,926.5 687.3,898.5 693.7,854.9" fill="none" stroke="#808080" stroke-width="3.3" stroke-linejoin="miter" stroke-miterlimit="9.6"/>
<polyline points="719.5,898 725.9,868.3 732.3,855.6 738.8,879.6 745.2,868.8 751.6,879.6 758.1,840.5 764.5,859.4 770.9,859.4 777.4,884.6 783.8,898.5 790.3,883.4 796.7,840.5 803.1,840.5" fill="none" stroke="#808080" stroke-width="3.3" stroke-linejoin="miter" stroke-miterlimit="9.6"/>
<polyline points="822.4,811.5 828.9,870.8 835.3,849.3 841.8,859.4 848.2,869.5 854.6,907.3 861.1,898.5 867.5,869.3 873.9,869.3 880.4,869.3 886.8,869.3 893.3,869.3 899.7,840.5 906.1,840.5 912.6,868.3 919,883.4 925.4,840.5 931.9,868.3 938.3,891.4 944.7,800.2 951.2,868.3 957.6,883.4 964.1,899.8 970.5,869 976.9,927 983.4,869.3 989.8,869.3 996.2,869.3 1002.7,889.7 1009.1,855.1 1015.6,898 1022,869.5 1028.4,898 1034.9,856.1 1041.3,883.4 1047.7,898.5 1054.2,841 1060.6,869.3 1067.1,869.3" fill="none" stroke="#808080" stroke-width="3.3" stroke-linejoin="miter" stroke-miterlimit="9.6"/>
<polyline points="141.4,1036.1 151.2,1022 161,1078.7 171.4,1042.5 184.6,1050.6 197,1009.6 209.5,1036.8 221.5,1081.6 233.8,1026.1 246.4,1107.4 259.9,1097.3 271.3,1081.6 284.2,1083.2 292.7,1042.3 298.5,1070.2 304.6,1067.1 309.4,1044.3 326.4,1064.1 331.1,1044.8 337.4,1089.9 343,1050.6 354.1,1072.3 359.5,1035.6 370,1001.9 376,1029.2 381.4,1030.8 387.3,1023.5 392.5,1002.6 397.9,1015.9 408.6,1030.8 419.9,1004.8 426.3,1029.3 430.6,1053.2 436.8,1058.3 442.7,1050.7 447.6,1012.6 454,1017.9 459.8,1030.5 464.3,1048.1 469.8,1001.4 475.5,1039.3 481.3,1051.9 486.6,1084.3 497.7,1053.7 510.3,1046.9 522.1,1046.9 534.7,1038.8 546.1,1039.8 553,1051 559.2,1050.2 565.7,1053.2 577.6,1086 583.9,1115 590,1128.1 596.5,1101.1 602.7,1096.6 609.2,1109.3 615.4,1103.6 620.7,1094.2 627.6,1128.1 633.6,1124.3 639.4,1108.7 645.8,1083.1 652,1095.9 658.3,1083.5 664.1,1048.6 670.7,1086.9 676.7,1072.1 683.5,1068.3 707.4,1057.7 724,1031 744.9,1023.1 786.5,1057 807.2,1059.5 868.4,1089.8 889.9,1111.5 927.7,1091 940.9,1066.7 954.7,1067.1 966.8,1071.6 979.9,1086.5 1006.3,1105.3 1019.2,1089.9 1032.5,1100.5 1067.4,1070.2" fill="none" stroke="#a8479a" stroke-width="3.2" stroke-linejoin="miter" stroke-miterlimit="9.3"/>
<polyline points="120.5,1258.5 147,1215.1 172.1,1209.1 191.6,1251.8 217.4,1176.7 243.3,1172.4 268.5,1209.3 294.5,1237.1 320.2,1291.4 345.8,1247 365.7,1295.2 390.8,1278.6 416.5,1269.8 443,1269.8 461.9,1258.1 487.3,1276.1 507.3,1308.9 532.2,1318.9 552.3,1199.2 577.5,1302.4 596.8,1306.5 616.1,1220.7 623.1,1282.3 642.4,1260.9 655,1181.8 661.8,1223.1 687.3,1261 706.3,1203 712.9,1267.9 732.3,1273.8 758.4,1224.6 777.3,1228.7 802.9,1217.8 823.1,1240.3 848.4,1278.7 874.1,1259.1 906.4,1280.6 932.2,1271.8 945.2,1213.1 963.7,1207.2 983.4,1183.3 1009.3,1216.1 1041.4,1235.2 1067.1,1244" fill="none" stroke="#7e802a" stroke-width="3.3" stroke-linejoin="miter" stroke-miterlimit="9.3"/>
<g font-size="25" fill="#000">
<text x="135.5" y="102.6">a</text>
<text x="135.5" y="274">b</text>
<text x="135" y="440.3">c</text>
<text x="135" y="620.2">d</text>
<text x="135.4" y="804.6">e</text>
<text x="137" y="1002.3">f</text>
<text x="137" y="1195">g</text>
</g>
<g font-size="23" font-weight="bold" fill="#e8820e" stroke="#e8820e" stroke-width="0.35"><text x="264" y="15.3" textLength="60.5">Wanli</text><text x="337.8" y="15.3" textLength="139.2">megadrought</text></g>
<g font-size="23" font-weight="bold" fill="#0f8fd9" stroke="#0f8fd9" stroke-width="0.35"><text x="562.2" y="16.4" textLength="116">Chongzhen</text><text x="691.3" y="16.4" textLength="140.7">megadrought</text></g>
<path d="M597.6 71.5V111" stroke="#000" stroke-width="2.6"/>
<path d="M590.8 108.5h13.6l-6.8 20.5z" fill="#000"/>
<path d="M710.4 71.5V109.8" stroke="#000" stroke-width="2.6"/>
<path d="M703.6 107.3h13.6l-6.8 20.5z" fill="#000"/>
<g font-size="20.5" fill="#111">
<text x="472" y="107" textLength="77.6">1627 CE</text>
<text x="323.5" y="129" textLength="255.5">Shaanxi peasantry uprising</text>
<text x="735" y="107.3" textLength="78">1644 CE</text>
<text x="724" y="133.1" textLength="278.3">Collapse of the Ming Dynasty</text>
<text x="327" y="261.3" textLength="260">Beginning (1627–1633 CE)</text>
<text x="670.4" y="232.7" textLength="229.6">Climax (1639–1644 CE)</text>
<text x="634.2" y="266.5" textLength="286.8">Development (1633–1639 CE)</text>
</g>
<g font-size="20" fill="#111" text-anchor="middle"><text x="583" y="227">I</text><text x="612.2" y="245.4">II</text><text x="642.3" y="220.1">III</text></g>
<rect x="563.9" y="231" width="33.1" height="6.8" fill="#fff000"/>
<rect x="596.2" y="250" width="29.5" height="7" fill="#fff000"/>
<rect x="626.3" y="225.5" width="29.9" height="6.3" fill="#fff000"/>
<path d="M1239.3 441L1268.6 469.7H1254V794.2H1268.6L1239.3 823L1210 794.2H1224.7V469.7H1210Z" fill="url(#ga)"/>
<text x="1236" y="420" font-size="24" text-anchor="middle" fill="#111" textLength="39.5">Wet</text>
<text x="1241" y="857.3" font-size="24" text-anchor="middle" fill="#111" textLength="40">Dry</text>
</svg>
</body></html>
